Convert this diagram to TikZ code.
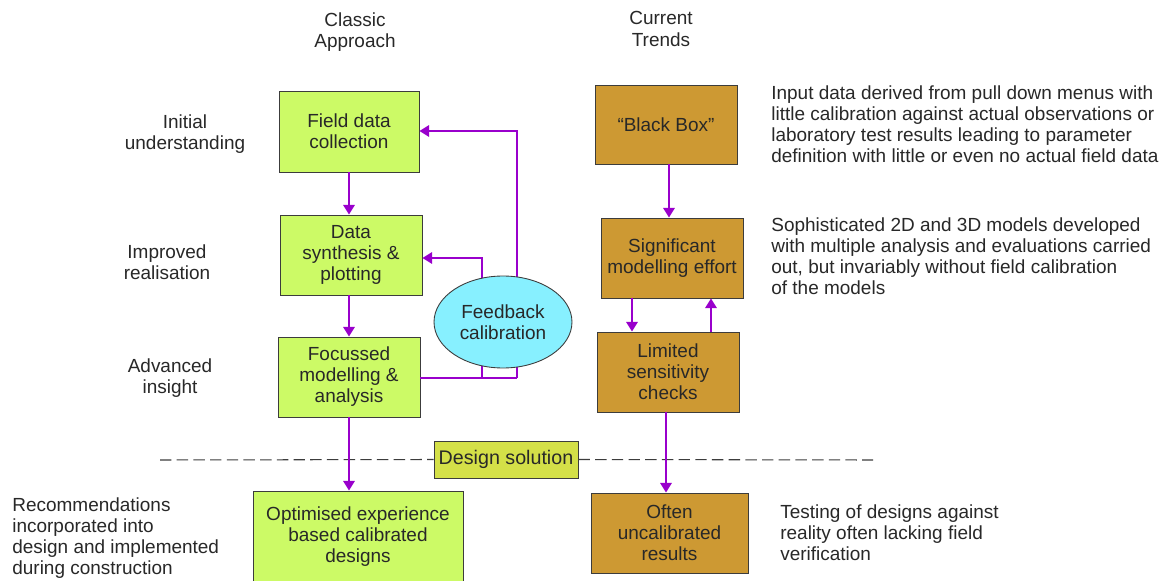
\documentclass[tikz,border=0pt]{standalone}
\usepackage{fontspec}
\setmainfont{Liberation Sans}
\usetikzlibrary{arrows.meta,shapes.geometric}
\definecolor{lime}{RGB}{204,250,102}
\definecolor{brownbox}{RGB}{205,153,51}
\definecolor{designc}{RGB}{212,224,72}
\definecolor{cyanc}{RGB}{135,240,255}
\definecolor{purp}{RGB}{153,0,204}
\definecolor{txt}{RGB}{40,40,40}
\definecolor{edge}{RGB}{60,60,60}
\tikzset{
  base/.style={draw=edge, line width=0.5pt, align=center, text=txt, inner sep=0pt,
    font=\fontsize{10.8}{12}\selectfont},
  gbox/.style={base, fill=lime},
  bbox/.style={base, fill=brownbox},
  arr/.style={draw=purp, line width=1.1pt, -{Triangle[length=5.5pt,width=6.5pt]}},
  ln/.style={draw=purp, line width=1.1pt},
  lbl/.style={align=center, text=txt, inner sep=0pt, font=\fontsize{10.8}{12}\selectfont},
  note/.style={align=left, text=txt, inner sep=0pt, anchor=north west, font=\fontsize{10.8}{12}\selectfont},
  dline/.style={dash pattern=on 6.5pt off 3pt, line width=0.6pt, draw=edge},
}
\begin{document}
\begin{tikzpicture}[x=0.02cm,y=-0.02cm]
\useasboundingbox (0,0) rectangle (1164,581);
\fill[white] (0,0) rectangle (1164,581);

% headers
\node[lbl] (hclassic) at (355,32) {Classic\\Approach};
\node[lbl] (htrends) at (661,29) {Current\\Trends};

% left labels
\node[lbl] (linit) at (185,134) {Initial\\understanding};
\node[lbl] (limpr) at (167,262) {Improved\\realisation};
\node[lbl] (ladv) at (170,378) {Advanced\\insight};
\node[note] (lrec) at (12,497) {Recommendations\\incorporated into\\design and implemented\\during construction};

% right notes
\node[note] (n1) at (771,85) {Input data derived from pull down menus with\\little calibration against actual observations or\\laboratory test results leading to parameter\\definition with little or even no actual field data};
\node[note] (n2) at (771,217) {Sophisticated 2D and 3D models developed\\with multiple analysis and evaluations carried\\out, but invariably without field calibration\\of the models};
\node[note] (n3) at (780,504) {Testing of designs against\\reality often lacking field\\verification};

% classic boxes
\node[gbox, minimum width=2.8cm, minimum height=1.62cm] (field) at (349,131.5) {Field data\\collection};
\node[gbox, minimum width=2.84cm, minimum height=1.6cm] (synth) at (351,255) {Data\\synthesis \&\\plotting};
\node[gbox, minimum width=2.84cm, minimum height=1.6cm] (focus) at (349,377) {Focussed\\modelling \&\\analysis};
\node[gbox, minimum width=4.2cm, minimum height=1.84cm] (optim) at (358,537) {Optimised experience\\based calibrated\\designs};

% trends boxes
\node[bbox, minimum width=2.84cm, minimum height=1.58cm] (black) at (666,124.5) {``Black Box''};
\node[bbox, minimum width=2.84cm, minimum height=1.6cm] (signif) at (672,258) {Significant\\modelling effort};
\node[bbox, minimum width=2.84cm, minimum height=1.6cm] (limited) at (668,372) {Limited\\sensitivity\\checks};
\node[bbox, minimum width=3.14cm, minimum height=1.6cm] (often) at (669.5,533) {Often\\uncalibrated\\results};

% dashed line and design solution
\node[base, fill=designc, minimum width=2.88cm, minimum height=0.74cm, font=\fontsize{11.2}{12}\selectfont] (design) at (506,459.5) {Design solution};
\coordinate (dl) at (160,460);
\coordinate (dr) at (873,460);
\draw[dline] (dl) -- (design.west);
\draw[dline] (design.east) -- (dr);

% classic arrows
\draw[arr] (field.south) -- (field.south |- synth.north);
\draw[arr] (focus.north |- synth.south) -- (focus.north);
\draw[arr] (focus.south) -- (focus.south |- optim.north);

% feedback loops
\coordinate (fa) at (482,378);
\coordinate (fb) at (517,378);
\coordinate (fbt) at (517,131);
\coordinate (fat) at (482,258);
\draw[ln] (focus.east |- fa) -- (fb);
\draw[arr] (fb) -- (fbt) -- (field.east |- fbt);
\draw[arr] (fa) -- (fat) -- (synth.east |- fat);
\node[base, ellipse, fill=cyanc, minimum width=2.76cm, minimum height=1.84cm] (feed) at (503,322) {Feedback\\calibration};

% trends arrows
\draw[arr] (black.south -| 669,0) -- (signif.north -| 669,0);
\draw[arr] (signif.south -| 632,0) -- (limited.north -| 632,0);
\draw[arr] (limited.north -| 711,0) -- (signif.south -| 711,0);
\draw[arr] (limited.south -| 666,0) -- (often.north -| 666,0);
\end{tikzpicture}
\end{document}
